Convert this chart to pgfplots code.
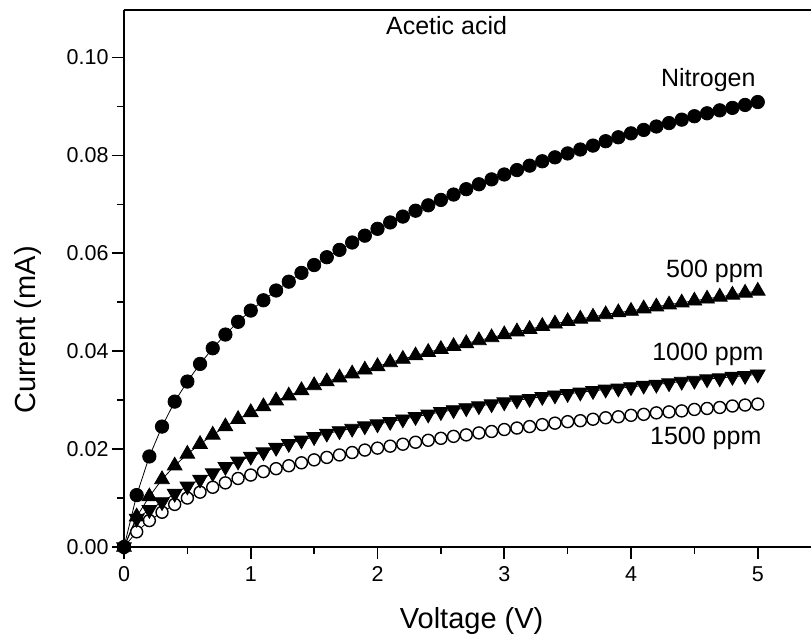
\documentclass[border=0pt]{standalone}
\usepackage{pgfplots}
\pgfplotsset{compat=1.18}
\usepackage{pgfplotstable}
\usepackage{fontspec}
\setmainfont{Liberation Sans}
\newcommand{\tickfont}{\fontsize{21.5bp}{25bp}\selectfont}
\newcommand{\labfont}{\fontsize{29bp}{34bp}\selectfont}
\newcommand{\annfont}{\fontsize{25bp}{30bp}\selectfont}

\pgfplotstableread{
x nitro p500 p1000 p1500
0.0 0.0000 0.0000 0.0000 0.0000
0.1 0.0106 0.0062 0.0058 0.0031
0.2 0.0185 0.0103 0.0076 0.0054
0.3 0.0246 0.0138 0.0092 0.0071
0.4 0.0297 0.0166 0.0109 0.0087
0.5 0.0338 0.0190 0.0124 0.0100
0.6 0.0374 0.0210 0.0138 0.0112
0.7 0.0406 0.0229 0.0151 0.0122
0.8 0.0434 0.0246 0.0164 0.0131
0.9 0.0460 0.0261 0.0175 0.0140
1.0 0.0483 0.0275 0.0185 0.0147
1.1 0.0504 0.0287 0.0194 0.0154
1.2 0.0524 0.0299 0.0203 0.0160
1.3 0.0542 0.0309 0.0211 0.0166
1.4 0.0560 0.0320 0.0218 0.0172
1.5 0.0576 0.0330 0.0225 0.0178
1.6 0.0592 0.0338 0.0232 0.0183
1.7 0.0607 0.0346 0.0237 0.0188
1.8 0.0622 0.0354 0.0242 0.0193
1.9 0.0636 0.0362 0.0247 0.0198
2.0 0.0650 0.0369 0.0251 0.0202
2.1 0.0663 0.0377 0.0256 0.0206
2.2 0.0675 0.0384 0.0261 0.0210
2.3 0.0687 0.0391 0.0266 0.0214
2.4 0.0698 0.0398 0.0271 0.0218
2.5 0.0709 0.0404 0.0276 0.0222
2.6 0.0720 0.0410 0.0280 0.0226
2.7 0.0731 0.0416 0.0284 0.0229
2.8 0.0741 0.0422 0.0288 0.0233
2.9 0.0751 0.0428 0.0292 0.0236
3.0 0.0761 0.0434 0.0296 0.0240
3.1 0.0770 0.0440 0.0300 0.0243
3.2 0.0779 0.0445 0.0303 0.0246
3.3 0.0788 0.0451 0.0307 0.0250
3.4 0.0796 0.0456 0.0310 0.0253
3.5 0.0804 0.0461 0.0313 0.0256
3.6 0.0812 0.0466 0.0316 0.0258
3.7 0.0820 0.0470 0.0319 0.0261
3.8 0.0829 0.0475 0.0322 0.0264
3.9 0.0837 0.0479 0.0324 0.0266
4.0 0.0845 0.0482 0.0327 0.0269
4.1 0.0852 0.0487 0.0330 0.0271
4.2 0.0859 0.0491 0.0332 0.0274
4.3 0.0866 0.0495 0.0335 0.0276
4.4 0.0873 0.0499 0.0338 0.0278
4.5 0.0880 0.0503 0.0340 0.0281
4.6 0.0886 0.0507 0.0343 0.0283
4.7 0.0892 0.0511 0.0345 0.0285
4.8 0.0897 0.0515 0.0348 0.0288
4.9 0.0903 0.0519 0.0350 0.0290
5.0 0.0909 0.0523 0.0353 0.0292
}\datatable

\begin{document}
\begin{tikzpicture}
\begin{axis}[
  scale only axis,
  width=687bp, height=537bp,
  xmin=0, xmax=5.42,
  ymin=0, ymax=0.1097,
  axis x line=box, axis y line=left,
  axis line style={-, line width=1.6bp, black},
  xtick pos=left, ytick pos=left,
  xtick={0,1,2,3,4,5},
  minor xtick={0.5,1.5,2.5,3.5,4.5},
  ytick={0,0.02,0.04,0.06,0.08,0.10},
  minor ytick={0.01,0.03,0.05,0.07,0.09},
  tick align=outside,
  major tick length=12bp, minor tick length=7bp,
  every tick/.style={black, line width=1.6bp},
  tick label style={font=\tickfont},
  /pgf/number format/assume math mode=true,
  yticklabel style={/pgf/number format/.cd, fixed, fixed zerofill, precision=2},
  xticklabel style={yshift=-4bp, /pgf/number format/.cd, fixed, precision=0},
  scaled y ticks=false,
  clip=false,
  xlabel={Voltage (V)},
  ylabel={Current (mA)},
  xlabel style={font=\labfont, at={(axis description cs:0.506,0)}, anchor=base, yshift=-81bp},
  ylabel style={font=\labfont, at={(axis description cs:0,0.404)}, anchor=base, yshift=88bp},
]
\addplot[black, line width=0.8bp, mark=*, mark size=6bp, mark options={line width=1.4bp, draw=black, fill=white, solid}] table[x=x, y=p1500] {\datatable};
\addplot[black, line width=0.8bp, mark=triangle*, mark size=8.5bp, mark options={rotate=180, fill=black, solid}] table[x=x, y=p1000] {\datatable};
\addplot[black, line width=0.8bp, mark=triangle*, mark size=8.5bp, mark options={fill=black, solid}] table[x=x, y=p500] {\datatable};
\addplot[black, line width=0.8bp, mark=*, mark size=6.7bp, mark options={fill=black, solid}] table[x=x, y=nitro] {\datatable};

\node[font=\annfont, anchor=base] at (axis cs:2.545,0.1047) {Acetic acid};
\node[font=\annfont, anchor=base east, inner sep=0pt] at (axis cs:4.984,0.0941) {Nitrogen};
\node[font=\annfont, anchor=base east, inner sep=0pt] at (axis cs:5.047,0.0551) {500 ppm};
\node[font=\annfont, anchor=base east, inner sep=0pt] at (axis cs:5.047,0.0382) {1000 ppm};
\node[font=\annfont, anchor=base east, inner sep=0pt] at (axis cs:5.030,0.0209) {1500 ppm};
\end{axis}
\pgfresetboundingbox
\useasboundingbox ([xshift=-124bp,yshift=-88bp]current axis.south west) rectangle ([yshift=10bp]current axis.north east);
\end{tikzpicture}
\end{document}
